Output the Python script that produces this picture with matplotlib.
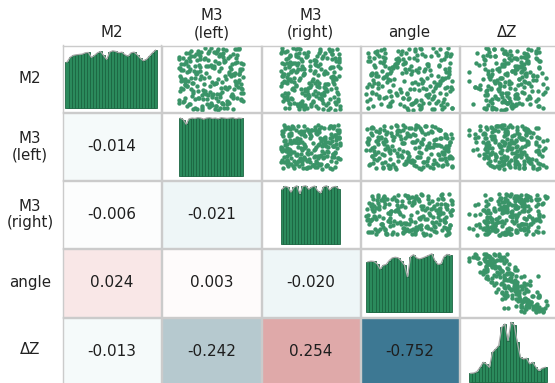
import numpy as np
import matplotlib
matplotlib.use('Agg')
import matplotlib.pyplot as plt
from matplotlib.colors import LinearSegmentedColormap

labels = ['M2', 'M3\n(left)', 'M3\n(right)', 'angle', 'ΔZ']

# paired samples, one value per sample for each variable
m2 = [12, 87, 45, 73, 29, 61, 3, 94, 38, 56,
      20, 79, 8, 67, 42, 99, 25, 51, 84, 15,
      70, 33, 90, 6, 58, 47, 22, 81, 36, 64,
      11, 75, 43, 97, 28, 53, 1, 68, 40, 86,
      18, 62, 31, 77, 49, 9, 92, 26, 57, 71,
      14, 83, 35, 60, 4, 95, 44, 19, 72, 52,
      88, 24, 65, 7, 39, 98, 30, 76, 16, 55,
      82, 46, 10, 69, 34, 91, 21, 59, 2, 80,
      48, 13, 93, 27, 63, 41, 85, 17, 74, 50,
      5, 96, 32, 66, 23, 78, 37, 89, 0, 54,
      43, 71, 12, 86, 28, 61, 99, 19, 47, 80,
      6, 58, 34, 91, 24, 69, 39, 75, 15, 52,
      83, 3, 64, 45, 97, 30, 67, 9, 88, 42,
      20, 73, 56, 1, 94, 37, 62, 18, 79, 50,
      26, 84, 11, 70, 33, 57, 92, 8, 48, 76,
      35, 90, 17, 62, 44, 2, 78, 26, 53, 95,
      9, 68, 40, 83, 21, 57, 4, 74, 31, 98,
      13, 49, 86, 37, 65, 7, 92, 23, 59, 45,
      81, 16, 72, 28, 54, 0, 87, 41, 66, 19,
      93, 33, 60, 10, 77, 48, 25, 99, 38, 70,
      14, 51, 85, 29, 63, 6, 89, 43, 20, 75,
      55, 3, 80, 36, 61, 24, 97, 46, 11, 69]
m3_left = [67, 24, 91, 5, 48, 77, 36, 59, 13, 85,
           30, 71, 52, 2, 96, 41, 63, 19, 88, 9,
           46, 74, 27, 58, 93, 15, 81, 34, 65, 7,
           50, 86, 22, 69, 39, 98, 28, 55, 11, 79,
           44, 62, 3, 90, 33, 75, 17, 53, 84, 26,
           61, 8, 95, 42, 70, 20, 57, 89, 31, 4,
           66, 37, 80, 14, 49, 92, 23, 60, 1, 72,
           40, 87, 18, 51, 97, 12, 64, 29, 83, 45,
           6, 76, 35, 99, 16, 54, 68, 25, 82, 10,
           47, 73, 38, 94, 21, 56, 78, 32, 60, 3,
           88, 43, 67, 19, 95, 28, 50, 84, 11, 70,
           36, 92, 7, 57, 45, 79, 14, 62, 99, 25,
           41, 74, 4, 52, 87, 30, 65, 16, 90, 39,
           58, 9, 81, 22, 47, 71, 33, 96, 18, 61,
           43, 76, 2, 54, 85, 27, 68, 49, 93, 12,
           5, 63, 38, 94, 21, 56, 12, 82, 47, 30,
           69, 3, 88, 16, 52, 77, 25, 99, 41, 60,
           8, 73, 34, 91, 18, 58, 45, 84, 27, 66,
           1, 95, 50, 23, 80, 36, 62, 10, 97, 32,
           54, 19, 86, 44, 70, 6, 59, 92, 29, 15,
           75, 39, 2, 67, 24, 48, 83, 57, 11, 96,
           35, 64, 28, 72, 13, 51, 89, 4, 78, 33]
m3_right = [33, 71, 8, 58, 94, 19, 45, 82, 27, 63,
            11, 50, 76, 38, 89, 4, 67, 23, 97, 54,
            15, 41, 86, 30, 72, 7, 59, 35, 92, 21,
            79, 3, 48, 66, 13, 84, 39, 99, 26, 61,
            9, 74, 44, 17, 88, 52, 31, 69, 5, 95,
            37, 78, 22, 56, 83, 12, 64, 47, 28, 91,
            16, 73, 34, 60, 1, 81, 42, 25, 70, 98,
            10, 53, 36, 87, 20, 65, 6, 77, 32, 57,
            14, 90, 46, 62, 2, 75, 29, 96, 18, 55,
            40, 85, 24, 68, 11, 93, 49, 27, 80, 5,
            58, 36, 71, 44, 8, 89, 30, 64, 19, 97,
            52, 13, 76, 40, 3, 84, 61, 22, 95, 33,
            70, 15, 50, 87, 26, 57, 9, 92, 45, 79,
            18, 66, 38, 99, 4, 73, 28, 83, 60, 16,
            47, 91, 24, 63, 34, 6, 75, 42, 88, 12,
            47, 85, 20, 58, 3, 71, 36, 95, 11, 66,
            28, 82, 51, 14, 89, 40, 62, 7, 77, 33,
            55, 93, 17, 64, 29, 99, 2, 48, 73, 24,
            86, 13, 60, 37, 4, 91, 26, 78, 39, 68,
            9, 84, 39, 16, 97, 32, 54, 21, 63, 50,
            5, 90, 43, 72, 19, 35, 98, 12, 67, 30,
            87, 8, 56, 75, 27, 41, 94, 61, 15, 15]
angle = [81, 15, 56, 33, 7, 92, 64, 41, 18, 75,
         49, 2, 87, 26, 60, 95, 11, 70, 37, 83,
         22, 51, 98, 44, 5, 66, 29, 90, 13, 58,
         73, 35, 9, 85, 47, 20, 62, 96, 31, 68,
         4, 53, 77, 16, 89, 39, 46, 93, 24, 71,
         1, 55, 80, 28, 99, 12, 65, 42, 84, 19,
         59, 36, 91, 8, 74, 50, 27, 97, 63, 14,
         43, 86, 52, 30, 69, 94, 23, 6, 76, 38,
         88, 57, 10, 34, 67, 82, 3, 48, 72, 25,
         90, 17, 61, 45, 79, 21, 98, 40, 54, 11,
         86, 32, 66, 93, 7, 60, 77, 15, 44, 87,
         28, 52, 99, 2, 69, 36, 81, 19, 58, 91,
         9, 47, 74, 24, 63, 97, 31, 53, 83, 13,
         42, 70, 5, 88, 56, 94, 18, 76, 37, 64,
         0, 50, 27, 84, 39, 96, 22, 61, 8, 45,
         66, 12, 90, 29, 53, 78, 4, 47, 95, 37,
         17, 61, 84, 22, 71, 6, 99, 43, 26, 57,
         89, 32, 75, 1, 50, 64, 92, 15, 41, 79,
         34, 58, 9, 86, 23, 48, 97, 3, 68, 20,
         81, 55, 11, 94, 45, 28, 73, 62, 7, 52,
         30, 88, 19, 40, 96, 25, 65, 13, 77, 35,
         83, 2, 59, 91, 46, 70, 21, 99, 54, 10]
delta_z = [40, 72, 51, 68, 87, 19, 58, 51, 75, 53,
           43, 82, 36, 82, 47, 35, 61, 49, 70, 38,
           65, 39, 53, 59, 69, 55, 53, 32, 89, 40,
           54, 52, 73, 41, 68, 67, 43, 46, 63, 31,
           81, 58, 46, 71, 38, 58, 50, 48, 51, 60,
           79, 55, 39, 53, 34, 79, 46, 62, 28, 88,
           57, 60, 33, 81, 47, 49, 76, 25, 50, 80,
           62, 19, 61, 82, 29, 50, 49, 85, 40, 57,
           44, 51, 82, 49, 46, 55, 66, 71, 32, 64,
           40, 75, 35, 62, 42, 71, 24, 70, 50, 77,
           42, 49, 53, 38, 54, 66, 34, 74, 68, 33,
           82, 40, 46, 79, 33, 64, 36, 72, 56, 48,
           79, 41, 60, 69, 41, 34, 61, 74, 35, 66,
           55, 49, 77, 52, 56, 24, 67, 45, 72, 31,
           86, 59, 64, 50, 45, 36, 68, 61, 79, 54,
           56, 71, 40, 58, 57, 34, 83, 62, 37, 62,
           67, 68, 29, 61, 62, 70, 32, 50, 81, 36,
           49, 64, 42, 68, 68, 57, 26, 73, 60, 42,
           80, 34, 67, 52, 70, 48, 42, 86, 44, 63,
           37, 60, 70, 22, 66, 77, 35, 81, 50, 62,
           50, 47, 68, 67, 36, 58, 53, 72, 60, 43,
           39, 86, 50, 27, 74, 35, 72, 41, 53, 66]

# bar heights of the diagonal histograms
hist_m2 = [138, 152, 158, 160, 161, 162, 166, 167, 152, 158, 166, 170, 158,
           146, 168, 172, 170, 166, 168, 160, 156, 166, 168, 160, 150, 142,
           146, 156, 166, 174]
hist_m3_left = [150, 146, 134, 148, 150, 149, 151, 150, 147, 150, 151, 149,
                150, 148, 151, 150, 149, 150, 151, 148, 150, 149]
hist_m3_right = [150, 158, 156, 142, 155, 160, 138, 158, 160, 150, 156, 159,
                 146, 140, 157, 160, 148, 156, 158, 152]
hist_angle = [156, 158, 157, 150, 134, 145, 148, 160, 168, 170, 168, 158, 146,
              110, 172, 178, 168, 165, 168, 172, 176, 181, 160, 148, 150, 172,
              179, 176]
hist_delta_z = [27, 28, 32, 45, 60, 55, 45, 90, 100, 110, 165, 175, 125, 180,
                172, 120, 75, 70, 72, 55, 60, 45, 35, 42, 45]

# correlation coefficients below the diagonal, row by row
corr_rows = [
    [-0.014],
    [-0.006, -0.021],
    [0.024, 0.003, -0.020],
    [-0.013, -0.242, 0.254, -0.752],
]

data = [m2, m3_left, m3_right, angle, delta_z]
hists = [hist_m2, hist_m3_left, hist_m3_right, hist_angle, hist_delta_z]
# where each variable's data range sits inside its cell
spans = [(0.03, 0.96), (0.17, 0.82), (0.19, 0.80), (0.06, 0.93), (0.10, 0.90)]

W, H = 555, 383
col_edges = [62, 161.5, 261.5, 360, 459, 557]
row_edges = [45, 112.5, 180.5, 248.5, 317, 387]

green = '#2b8a5c'
point_color = '#3a9468'
border = '#cbcbcb'

cmap = LinearSegmentedColormap.from_list('corr', [
    (0.0, '#1f5c7c'), (0.124, '#3e7993'), (0.379, '#b5c8ce'),
    (0.49, '#eef6f7'), (0.5, '#ffffff'), (0.512, '#f9e8e8'),
    (0.627, '#dfa9a9'), (1.0, '#b04848')])


def limits(vals, f0, f1):
    lo, hi = min(vals), max(vals)
    span = (hi - lo) / (f1 - f0)
    return lo - f0 * span, lo - f0 * span + span


fig = plt.figure(figsize=(W / 100, H / 100), dpi=100)
n = len(labels)
lims = [limits(data[k], *spans[k]) for k in range(n)]

for i in range(n):
    for j in range(n):
        x0, x1 = col_edges[j], col_edges[j + 1]
        y0, y1 = row_edges[i], row_edges[i + 1]
        ax = fig.add_axes([(x0 + 0.5) / W, 1 - (y1 - 0.5) / H,
                           (x1 - x0 - 1) / W, (y1 - y0 - 1) / H])
        ax.set_xticks([])
        ax.set_yticks([])
        for s in ax.spines.values():
            s.set_color(border)
            s.set_linewidth(1.0)
        if i == j:
            counts = np.array(hists[i], dtype=float)
            edges = np.linspace(min(data[i]), max(data[i]), len(counts) + 1)
            centers = (edges[:-1] + edges[1:]) / 2
            ax.fill_between(centers, counts, color=green, linewidth=0,
                            zorder=1)
            ax.bar(edges[:-1], counts, width=np.diff(edges), align='edge',
                   color=green, edgecolor='#1c6642', linewidth=0.6, zorder=2)
            ax.plot(centers, counts, color='#a8a8a8', linewidth=0.9, zorder=3)
            ax.set_xlim(*lims[i])
            ax.set_ylim(-0.07 * counts.max(), 1.08 * counts.max())
        elif j > i:
            ax.scatter(data[j], data[i], s=10, color=point_color,
                       linewidths=0)
            ax.set_xlim(*lims[j])
            ax.set_ylim(*lims[i])
        else:
            r = corr_rows[i - 1][j]
            ax.set_facecolor(cmap((r + 1) / 2))
            ax.text(0.5, 0.5, f'{r:.3f}', ha='center', va='center',
                    transform=ax.transAxes, fontsize=11, color='#1e1e1e')

# variable names along the top and the left side
for k, name in enumerate(labels):
    cx = (col_edges[k] + min(col_edges[k + 1], W)) / 2
    fig.text(cx / W, 1 - 40 / H, name, ha='center', va='bottom',
             fontsize=10.8, color='#222222', linespacing=1.15)
    cy = (row_edges[k] + min(row_edges[k + 1], H)) / 2
    fig.text(30 / W, 1 - cy / H, name, ha='center', va='center',
             fontsize=10.8, color='#222222', linespacing=1.15)

fig.savefig('out.png', dpi=100)
